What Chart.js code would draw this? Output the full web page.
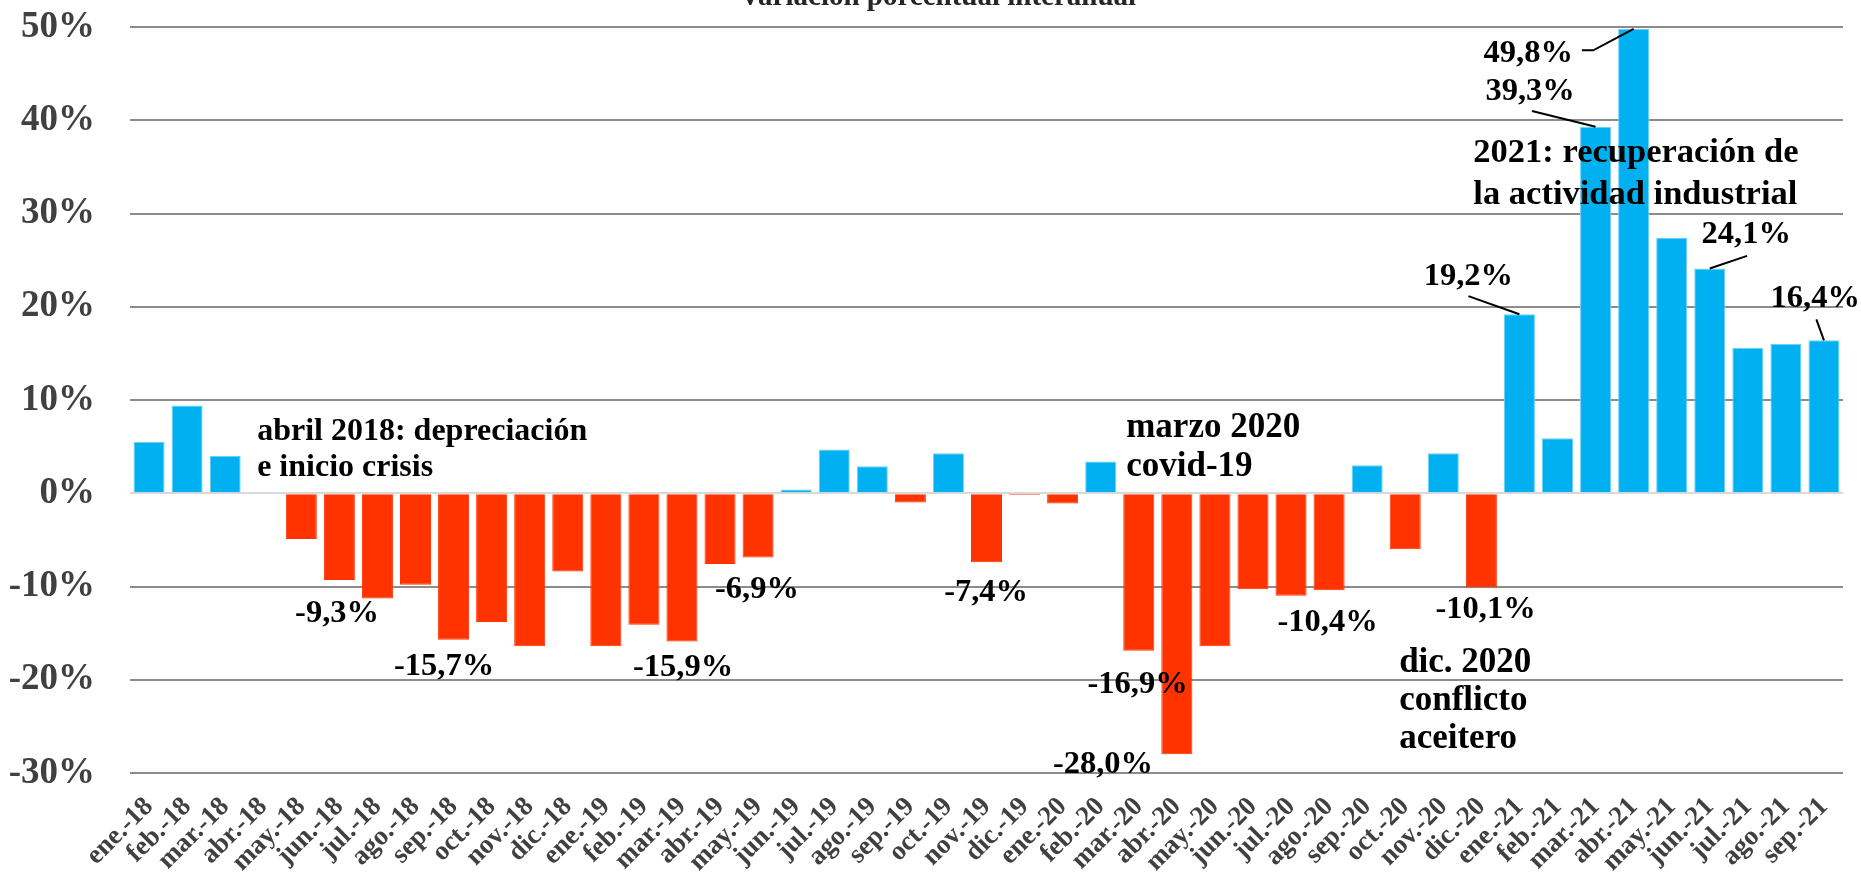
<!DOCTYPE html>
<html lang="es">
<head>
    <meta charset="UTF-8">
    <title>Variación porcentual interanual</title>
    <script src="https://cdn.jsdelivr.net/npm/chart.js"></script>
    <style>
        html, body { margin: 0; padding: 0; background: #fff; overflow: hidden; }
        #marco { position: relative; width: 1861px; height: 877px; }
    </style>
</head>
<body>
    <div id="marco">
        <canvas id="grafico"></canvas>
    </div>

    <script>
        // Datos
        const meses = [
            'ene.-18', 'feb.-18', 'mar.-18', 'abr.-18', 'may.-18', 'jun.-18', 'jul.-18', 'ago.-18', 'sep.-18', 'oct.-18', 'nov.-18', 'dic.-18',
            'ene.-19', 'feb.-19', 'mar.-19', 'abr.-19', 'may.-19', 'jun.-19', 'jul.-19', 'ago.-19', 'sep.-19', 'oct.-19', 'nov.-19', 'dic.-19',
            'ene.-20', 'feb.-20', 'mar.-20', 'abr.-20', 'may.-20', 'jun.-20', 'jul.-20', 'ago.-20', 'sep.-20', 'oct.-20', 'nov.-20', 'dic.-20',
            'ene.-21', 'feb.-21', 'mar.-21', 'abr.-21', 'may.-21', 'jun.-21', 'jul.-21', 'ago.-21', 'sep.-21'
        ];
        const variacion = [
            5.5, 9.4, 4.0, 0.0, -4.9, -9.3, -11.3, -9.8, -15.7, -13.8, -16.4, -8.4,
            -16.4, -14.1, -15.9, -7.6, -6.9, 0.4, 4.7, 2.9, -1.0, 4.3, -7.4, -0.2,
            -1.1, 3.4, -16.9, -28.0, -16.4, -10.3, -11.0, -10.4, 3.0, -6.0, 4.3, -10.1,
            19.2, 5.9, 39.3, 49.8, 27.4, 24.1, 15.6, 16.0, 16.4
        ];
        const ticksY = [-30, -20, -10, 0, 10, 20, 30, 40, 50];

        // Etiquetas de valor: barra, posición (índice de categoría, valor de la línea base)
        const etiquetaIdx = [5, 8, 14, 16, 22, 26, 27, 31, 35, 36, 38, 39, 41, 44];
        const etiquetaX = [4.94, 7.75, 14.03, 15.97, 21.99, 25.97, 25.06, 30.96, 35.11, 34.66, 36.28, 36.23, 41.96, 43.77];
        const etiquetaY = [-13.8, -19.5, -19.6, -11.2, -11.6, -21.4, -30.0, -14.8, -13.4, 22.3, 42.2, 46.3, 26.8, 20.0];

        // Líneas guía hacia las barras
        const guiaIdx = [36, 38, 39, 41, 44];
        const guiaX = [34.66, 36.33, 37.64, 41.98, 43.8];
        const guiaY = [21.14, 41.0, 47.5, 25.46, 18.64];
        const guiaCodo = [null, null, 37.94, null, null];

        // Textos explicativos
        const notas = [
            { lineas: ['abril 2018: depreciación', 'e inicio crisis'], x: 2.84, y: 5.71, paso: 36, tam: 32 },
            { lineas: ['marzo 2020', 'covid-19'], x: 25.67, y: 6.03, paso: 39, tam: 35 },
            { lineas: ['dic. 2020', 'conflicto', 'aceitero'], x: 32.84, y: -19.15, paso: 38, tam: 35 },
            { lineas: ['2021: recuperación de', 'la actividad industrial'], x: 34.79, y: 35.5, paso: 42, tam: 34.5 }
        ];

        const AZUL = '#00b0f0';
        const ROJO = '#ff3300';
        const FUENTE = "'Liberation Serif', 'Times New Roman', serif";

        function formato(v) {
            return v.toFixed(1).replace('.', ',') + '%';
        }

        const anotaciones = {
            id: 'anotaciones',
            afterDatasetsDraw(chart) {
                const ctx = chart.ctx;
                const sx = chart.scales.x;
                const sy = chart.scales.y;
                const barras = chart.getDatasetMeta(0).data;
                ctx.save();

                // título (recortado en el borde superior)
                ctx.fillStyle = '#262626';
                ctx.font = 'bold 29px ' + FUENTE;
                ctx.textAlign = 'center';
                ctx.textBaseline = 'alphabetic';
                ctx.fillText('Variación porcentual interanual', 938, 5);

                // líneas guía
                ctx.strokeStyle = '#000';
                ctx.lineWidth = 2;
                guiaIdx.forEach((i, k) => {
                    ctx.beginPath();
                    ctx.moveTo(sx.getPixelForValue(guiaX[k]), sy.getPixelForValue(guiaY[k]));
                    if (guiaCodo[k] !== null) {
                        ctx.lineTo(sx.getPixelForValue(guiaCodo[k]), sy.getPixelForValue(guiaY[k]));
                    }
                    ctx.lineTo(barras[i].x, barras[i].y);
                    ctx.stroke();
                });

                // etiquetas de valor
                ctx.fillStyle = '#000';
                ctx.font = 'bold 32.5px ' + FUENTE;
                ctx.textAlign = 'center';
                etiquetaIdx.forEach((i, k) => {
                    ctx.fillText(formato(variacion[i]), sx.getPixelForValue(etiquetaX[k]), sy.getPixelForValue(etiquetaY[k]));
                });

                // notas
                ctx.textAlign = 'left';
                notas.forEach(n => {
                    ctx.font = 'bold ' + n.tam + 'px ' + FUENTE;
                    const x0 = sx.getPixelForValue(n.x);
                    const y0 = sy.getPixelForValue(n.y);
                    n.lineas.forEach((t, j) => ctx.fillText(t, x0, y0 + j * n.paso));
                });

                ctx.restore();
            }
        };

        new Chart(document.getElementById('grafico'), {
            type: 'bar',
            data: {
                labels: meses,
                datasets: [{
                    data: variacion,
                    backgroundColor: variacion.map(v => v >= 0 ? AZUL : ROJO),
                    borderColor: variacion.map(v => v >= 0 ? '#6fd0f3' : ROJO),
                    borderWidth: 1,
                    categoryPercentage: 1,
                    barPercentage: 0.815
                }]
            },
            options: {
                responsive: true,
                maintainAspectRatio: false,
                animation: false,
                layout: { padding: { top: 27, right: 18, left: 0, bottom: 0 } },
                plugins: {
                    legend: { display: false },
                    tooltip: { enabled: false },
                    title: { display: false }
                },
                scales: {
                    x: {
                        grid: { display: false },
                        border: { display: false },
                        ticks: {
                            autoSkip: false,
                            maxRotation: 45,
                            minRotation: 45,
                            padding: 10,
                            color: '#404040',
                            font: { family: FUENTE, size: 27, weight: 'bold' }
                        },
                        afterFit: s => { s.height = 104; s.paddingLeft = 0; s.paddingRight = 0; }
                    },
                    y: {
                        min: ticksY[0],
                        max: ticksY[ticksY.length - 1],
                        afterBuildTicks: s => { s.ticks = ticksY.map(v => ({ value: v })); },
                        grid: {
                            drawTicks: false,
                            lineWidth: 2,
                            color: c => c.tick && c.tick.value === 0 ? '#d9d9d9' : '#8c8c8c'
                        },
                        border: { display: false },
                        ticks: {
                            padding: 35,
                            color: '#404040',
                            font: { family: FUENTE, size: 37, weight: 'bold' },
                            callback: v => v + '%'
                        },
                        afterFit: s => { s.width = 130; s.paddingTop = 0; s.paddingBottom = 0; }
                    }
                }
            },
            plugins: [anotaciones]
        });
    </script>
</body>
</html>
